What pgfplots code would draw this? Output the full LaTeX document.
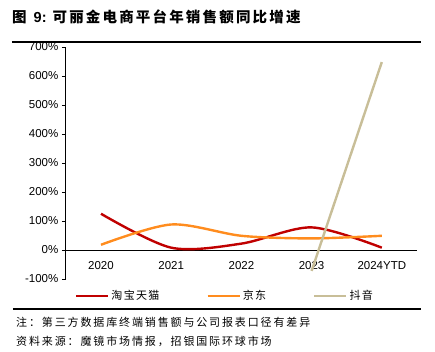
\documentclass[border=0pt]{standalone}
\usepackage{pgfplots}
\pgfplotsset{compat=1.18}
\usetikzlibrary{calc}
\usepackage{fontspec}
\setmainfont{Liberation Sans}
\newfontfamily\cjk{Noto Sans CJK SC}
\newfontfamily\cjkleg[LetterSpace=12]{Noto Sans CJK SC}
\newfontfamily\cjknote[LetterSpace=17]{Noto Sans CJK SC}
\newfontfamily\cjktitle[LetterSpace=15]{Noto Sans CJK SC Bold}
\definecolor{cRed}{RGB}{192,0,0}
\definecolor{cOrange}{RGB}{255,140,30}
\definecolor{cTan}{RGB}{200,190,152}
\begin{document}
\begin{tikzpicture}
\begin{axis}[
  scale only axis, width=351pt, height=232pt,
  xmin=-0.5, xmax=4.5, ymin=-100, ymax=700,
  axis y line=left, axis x line=middle,
  axis line style={-, line width=0.9pt, black},
  xtick={0,1,2,3,4},
  xticklabels={2020,2021,2022,2023,2024YTD},
  major x tick style={draw=none},
  extra x ticks={-0.5,0.5,1.5,2.5,3.5,4.5},
  extra x tick labels={},
  extra x tick style={tick align=outside, major tick length=4pt, major tick style={line width=0.8pt, black}},
  ytick={-100,0,...,700},
  yticklabel={\pgfmathprintnumber{\tick}\%},
  ytick align=outside, major tick length=4pt,
  major y tick style={line width=0.8pt, black},
  tick label style={font=\fontsize{11.5}{13}\selectfont},
  xticklabel style={yshift=-6pt},
  /pgf/number format/assume math mode=true,
  clip=false,
  legend columns=3,
  legend style={at={(0.017,-0.073)}, anchor=west, draw=none, fill=none,
    font=\fontsize{11}{13}\selectfont\cjkleg,
    /tikz/every even column/.append style={column sep=45pt}},
  legend image code/.code={\draw[#1] (0pt,0pt) -- (32pt,0pt);},
]
\addplot[cRed, line width=2.4pt, smooth, tension=0.5] coordinates {(0,125) (1,8) (2,22) (3,78) (4,8)};
\addlegendentry{淘宝天猫}
\addplot[cOrange, line width=2.4pt, smooth, tension=0.5] coordinates {(0,18) (1,88) (2,49) (3,40) (4,49)};
\addlegendentry{京东}
\addplot[cTan, line width=2.4pt] coordinates {(3,-72) (4,648)};
\addlegendentry{抖音}
\coordinate (O) at (axis cs:0,0);
\end{axis}
\pgfresetboundingbox
\begin{scope}[shift={($(O)+(-101pt,-101pt)$)}, x=1pt, y=1pt]
\useasboundingbox (0,0) rectangle (435,351);
\node[anchor=west,inner sep=0] at (12,334) {\fontsize{14.5}{16}\selectfont\bfseries{\cjktitle 图}\hspace{7pt}9:\hspace{6pt}\cjktitle 可丽金电商平台年销售额同比增速};
\draw[line width=2.6pt] (12,309) -- (421,309);
\draw[line width=2pt] (13,42) -- (421,42);
\node[anchor=west,inner sep=0] at (16,29) {\fontsize{11}{13}\selectfont\cjknote 注：第三方数据库终端销售额与公司报表口径有差异};
\node[anchor=west,inner sep=0] at (16,10) {\fontsize{11}{13}\selectfont\cjknote 资料来源：魔镜市场情报，招银国际环球市场};
\end{scope}
\end{tikzpicture}
\end{document}
